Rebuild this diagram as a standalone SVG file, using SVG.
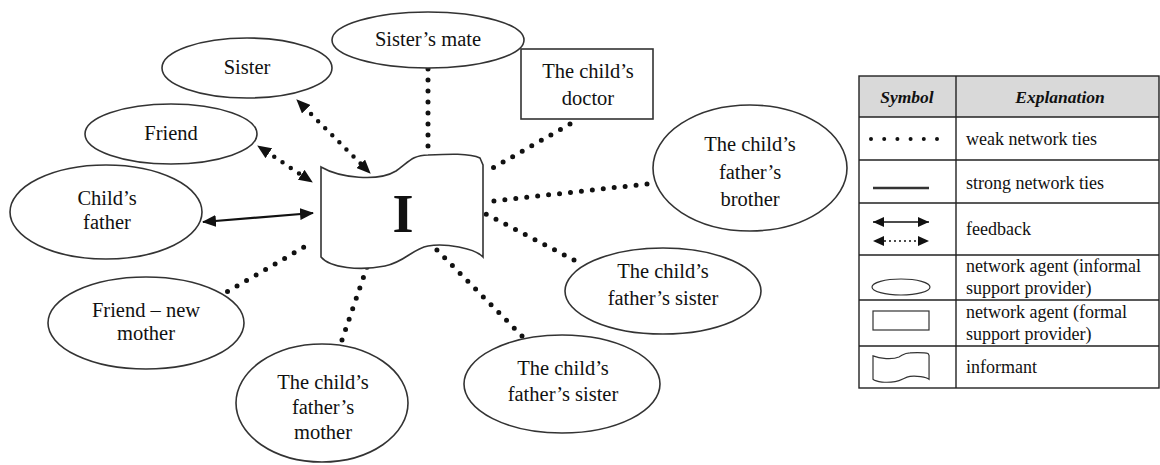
<svg xmlns="http://www.w3.org/2000/svg" width="1160" height="465" viewBox="0 0 1160 465" font-family="'Liberation Serif', 'Times New Roman', serif">
<style>
.shape{fill:#fff;stroke:#333;stroke-width:1.6}
.t{font-family:'Liberation Serif', serif;font-size:20.5px;fill:#111;text-anchor:middle}
.lt{font-family:'Liberation Serif', serif;font-size:18px;fill:#111}
.hd{font-family:'Liberation Serif', serif;font-size:17.5px;font-weight:bold;font-style:italic;fill:#111;text-anchor:middle}
.dot{fill:none;stroke:#111;stroke-width:5;stroke-linecap:round;stroke-dasharray:0 11}
.solid{fill:none;stroke:#111;stroke-width:2.2}
.grid{fill:none;stroke:#222;stroke-width:1.4}
</style>
<defs>
<marker id="ah" markerUnits="userSpaceOnUse" markerWidth="14" markerHeight="12" refX="13" refY="6" orient="auto-start-reverse">
<path d="M0,0 L14,6 L0,12 z" fill="#111"/>
</marker>
<marker id="ahs" markerUnits="userSpaceOnUse" markerWidth="11" markerHeight="10" refX="11" refY="5" orient="auto-start-reverse">
<path d="M0,0 L11,5 L0,10 z" fill="#111"/>
</marker>
</defs>
<rect width="1160" height="465" fill="#fff"/>
<g id="connectors">
<line class="dot" x1="428" y1="69" x2="428" y2="147"/>
<line class="dot" x1="570" y1="124" x2="484" y2="173"/>
<line class="dot" x1="647" y1="184" x2="484" y2="202"/>
<line class="dot" x1="574" y1="260" x2="484" y2="213"/>
<line class="dot" x1="522" y1="336" x2="433" y2="246"/>
<line class="dot" x1="342" y1="340" x2="367" y2="267"/>
<line class="dot" x1="218" y1="297" x2="306" y2="246"/>
<line class="dot" x1="304" y1="107" x2="363" y2="166" style="stroke-width:4.5;stroke-dasharray:0 10"/>
<line x1="297" y1="100" x2="370" y2="173" stroke="none" marker-start="url(#ah)" marker-end="url(#ah)"/>
<line class="dot" x1="266" y1="151" x2="304" y2="177" style="stroke-width:4.5;stroke-dasharray:0 10"/>
<line x1="258" y1="146" x2="312" y2="182" stroke="none" marker-start="url(#ah)" marker-end="url(#ah)"/>
<line class="solid" x1="203" y1="222" x2="313" y2="213" marker-start="url(#ah)" marker-end="url(#ah)"/>
</g>
<g id="informant">
<path class="shape" d="M321,167 C340,178 378,182 396,171 C408,163 412,155 428,155 C448,154 470,153 480,158 L483,165 L483,257 C475,248 445,243 428,246 C412,249 405,262 385,266 C360,271 330,268 321,257 Z"/>
<text x="403" y="232" style="font-family:'Liberation Serif', serif;font-size:54px;font-weight:bold;fill:#111;text-anchor:middle">I</text>
</g>
<g id="sisters-mate"><ellipse class="shape" cx="428" cy="40" rx="96" ry="28"/><text class="t" x="428" y="46">Sister’s mate</text></g>
<g id="sister"><ellipse class="shape" cx="247" cy="68" rx="85" ry="30"/><text class="t" x="247" y="74">Sister</text></g>
<g id="friend"><ellipse class="shape" cx="171" cy="134" rx="86" ry="30"/><text class="t" x="171" y="140">Friend</text></g>
<g id="childs-father"><ellipse class="shape" cx="106" cy="212" rx="96" ry="47"/><text class="t" x="107" y="205">Child’s</text><text class="t" x="107" y="229">father</text></g>
<g id="friend-new-mother"><ellipse class="shape" cx="146" cy="323" rx="98" ry="46"/><text class="t" x="146" y="317">Friend – new</text><text class="t" x="146" y="340">mother</text></g>
<g id="fathers-mother"><ellipse class="shape" cx="322" cy="403" rx="86" ry="59"/><text class="t" x="323" y="389">The child’s</text><text class="t" x="323" y="414">father’s</text><text class="t" x="323" y="439">mother</text></g>
<g id="fathers-sister-bottom"><ellipse class="shape" cx="562" cy="384" rx="98" ry="49"/><text class="t" x="563" y="375">The child’s</text><text class="t" x="563" y="401">father’s sister</text></g>
<g id="fathers-sister-right"><ellipse class="shape" cx="663" cy="291" rx="98" ry="43"/><text class="t" x="663" y="278">The child’s</text><text class="t" x="663" y="305">father’s sister</text></g>
<g id="fathers-brother"><ellipse class="shape" cx="750" cy="168" rx="97" ry="63"/><text class="t" x="750" y="151">The child’s</text><text class="t" x="750" y="179">father’s</text><text class="t" x="750" y="206">brother</text></g>
<g id="doctor"><rect class="shape" x="521" y="49" width="132" height="70"/><text class="t" x="588" y="78">The child’s</text><text class="t" x="588" y="105">doctor</text></g>
<g id="legend">
<rect x="859" y="76" width="300" height="41" fill="#d9d9d9"/>
<rect class="grid" x="859" y="76" width="300" height="312"/>
<line class="grid" x1="956" y1="76" x2="956" y2="388"/>
<line class="grid" x1="859" y1="117" x2="1159" y2="117"/>
<line class="grid" x1="859" y1="160" x2="1159" y2="160"/>
<line class="grid" x1="859" y1="203" x2="1159" y2="203"/>
<line class="grid" x1="859" y1="255" x2="1159" y2="255"/>
<line class="grid" x1="859" y1="300" x2="1159" y2="300"/>
<line class="grid" x1="859" y1="346" x2="1159" y2="346"/>
<text class="hd" x="907" y="103">Symbol</text>
<text class="hd" x="1060" y="103">Explanation</text>
<line x1="871" y1="139" x2="937" y2="139" style="stroke:#111;stroke-width:4;stroke-linecap:round;stroke-dasharray:0 13.2"/>
<text class="lt" x="966" y="145">weak network ties</text>
<line x1="873" y1="188" x2="929" y2="188" style="stroke:#333;stroke-width:2.6"/>
<text class="lt" x="966" y="189">strong network ties</text>
<line x1="873" y1="222" x2="929" y2="222" style="stroke:#111;stroke-width:1.6" marker-start="url(#ahs)" marker-end="url(#ahs)"/>
<line x1="885" y1="241" x2="917" y2="241" style="stroke:#111;stroke-width:2;stroke-linecap:round;stroke-dasharray:0 5"/>
<line x1="873" y1="241" x2="929" y2="241" stroke="none" marker-start="url(#ahs)" marker-end="url(#ahs)"/>
<text class="lt" x="966" y="235">feedback</text>
<ellipse class="shape" cx="901" cy="287" rx="29" ry="8" style="stroke-width:1.2"/>
<text class="lt" x="966" y="272">network agent (informal</text>
<text class="lt" x="966" y="294">support provider)</text>
<rect class="shape" x="873" y="311" width="56" height="19" style="stroke-width:1.2"/>
<text class="lt" x="966" y="318">network agent (formal</text>
<text class="lt" x="966" y="340">support provider)</text>
<path class="shape" transform="translate(873,352) scale(0.346,0.26) translate(-321,-152)" style="stroke-width:1.2" vector-effect="non-scaling-stroke" d="M321,167 C340,178 378,182 396,171 C408,163 412,155 428,155 C448,154 470,153 480,158 L483,165 L483,257 C475,248 445,243 428,246 C412,249 405,262 385,266 C360,271 330,268 321,257 Z"/>
<text class="lt" x="966" y="373">informant</text>
</g>
</svg>
